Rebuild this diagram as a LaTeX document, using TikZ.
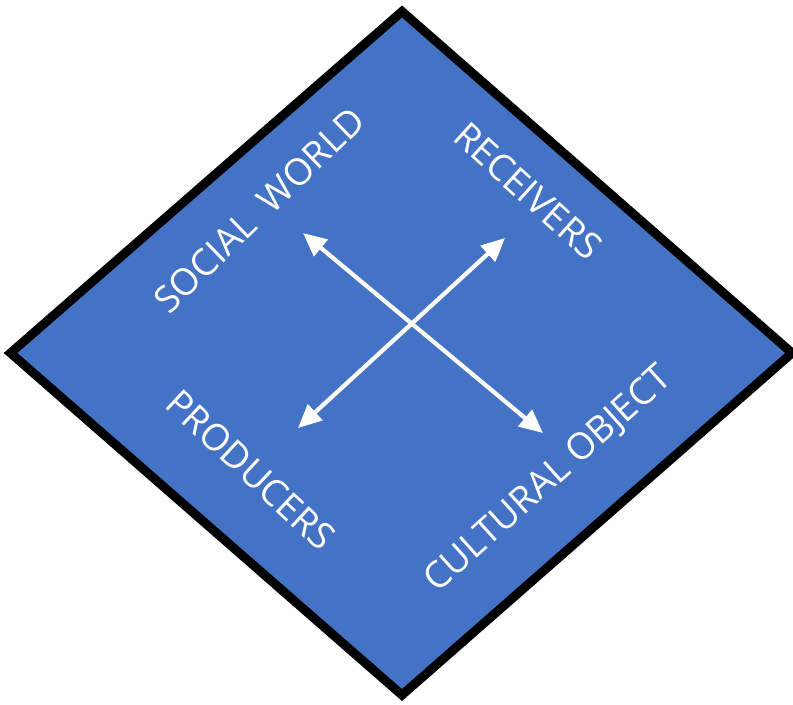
\documentclass[tikz,border=0pt]{standalone}
\usepackage{fontspec}
\setmainfont{Open Sans}
\usetikzlibrary{arrows.meta}
\definecolor{diamondblue}{RGB}{68,114,196}
\tikzstyle{diamond edge}=[draw=black, fill=diamondblue, line width=7.7pt, line join=miter]
\tikzstyle{corner label}=[text=white, inner sep=0pt, font=\fontsize{31.5}{36}\selectfont]
\tikzstyle{cross arrow}=[draw=white, line width=3.6pt, {Triangle[length=20pt,width=18pt]}-{Triangle[length=20pt,width=18pt]}]

\begin{document}
\begin{tikzpicture}[x=0.03cm, y=-0.03cm]
            \useasboundingbox (0, 0) rectangle (793, 704);

            % the diamond
            \coordinate (top) at (402, 11.5);
            \coordinate (right) at (792, 353);
            \coordinate (bottom) at (402, 695);
            \coordinate (left) at (10.5, 353);
            \path[diamond edge] (top) -- (right) -- (bottom) -- (left) -- cycle;

            % labels along the edges
            \node[corner label, rotate=44] (social) at (259, 210) {SOCIAL\ \ WORLD};
            \node[corner label, rotate=-42] (receivers) at (528, 191) {RECEIVERS};
            \node[corner label, rotate=-43] (producers) at (251, 470) {PRODUCERS};
            \node[corner label, rotate=42] (cultural) at (549, 480) {CULTURAL OBJECT};

            % the two double arrows
            \coordinate (socialend) at (303, 233);
            \coordinate (culturalend) at (543, 433);
            \coordinate (producersend) at (298, 428);
            \coordinate (receiversend) at (505, 238);
            \draw[cross arrow] (socialend) -- (culturalend);
            \draw[cross arrow] (producersend) -- (receiversend);
\end{tikzpicture}
\end{document}
